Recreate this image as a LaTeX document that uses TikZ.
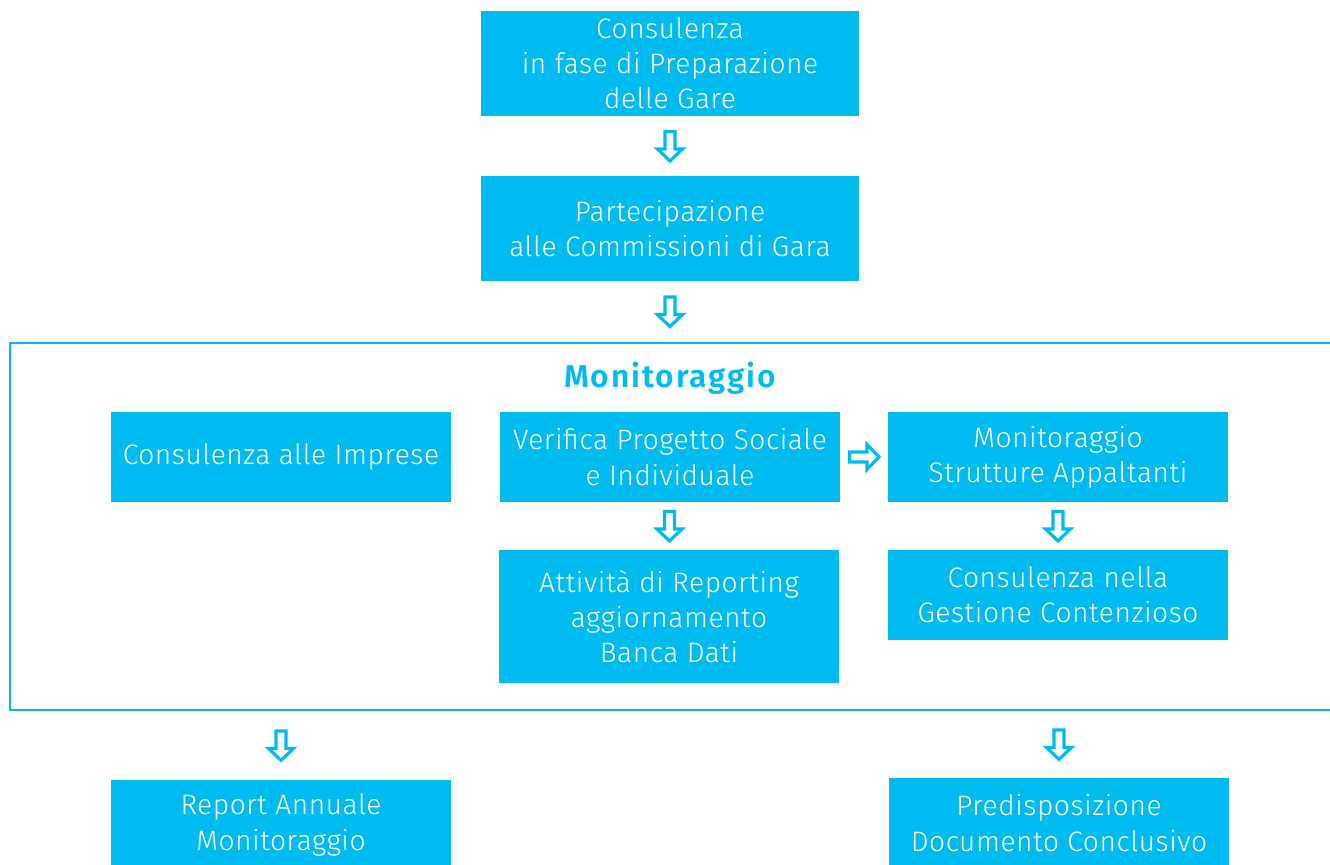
\documentclass[tikz,border=0pt]{standalone}
\usepackage{fontspec}
\setmainfont{Fira Sans}[UprightFont=* Light, BoldFont=* SemiBold, LetterSpace=2]
\usetikzlibrary{calc}
\definecolor{azzurro}{RGB}{0,187,240}
\tikzset{
  box/.style={fill=azzurro,text=white,align=center,inner sep=0pt,
    minimum width=6.8cm,minimum height=1.8cm,
    font=\fontsize{16}{20}\selectfont},
  bigbox/.style={box,minimum width=7.56cm,minimum height=2.1cm},
  frecc/.style={draw=azzurro,line width=1.8pt,fill=white,line join=miter},
  giu/.pic={\path[frecc] (-5,14.5) -- (5,14.5) -- (5,-3) -- (12.5,-3)
      -- (0,-15) -- (-12.5,-3) -- (-5,-3) -- cycle;}
}
\begin{document}
\begin{tikzpicture}[x=0.02cm,y=0.02cm]
  \useasboundingbox (0,0) rectangle (1330,-865);
  % fase preliminare
  \node[bigbox] (prep) at (670,-63.5) {Consulenza\\in fase di Preparazione\\delle Gare};
  \node[bigbox] (comm) at (670,-228.5) {Partecipazione\\alle Commissioni di Gara};
  % riquadro monitoraggio
  \node[draw=azzurro,line width=1.4pt,minimum width=26.8cm,minimum height=7.34cm] (mon) at (680,-526.5) {};
  \node[text=azzurro,font=\fontsize{18}{20}\selectfont\bfseries\addfontfeatures{LetterSpace=6}] (titolo) at (670,-378) {Monitoraggio};
  \node[box] (imp) at (281,-457) {Consulenza alle Imprese};
  \node[box] (ver) at (670,-457) {Verifica Progetto Sociale\\e Individuale};
  \node[box] (strut) at (1058,-457) {Monitoraggio\\Strutture Appaltanti};
  \node[box,minimum height=2.66cm] (repo) at (669,-616.5) {Attività di Reporting\\aggiornamento\\Banca Dati};
  \node[box] (cont) at (1058,-595) {Consulenza nella\\Gestione Contenzioso};
  % uscite
  \node[box] (ann) at (281,-825) {Report Annuale\\Monitoraggio};
  \node[box] (conc) at (1059,-823) {Predisposizione\\Documento Conclusivo};
  % frecce
  \pic at ($(prep.south)!0.5!(comm.north)$) {giu};
  \pic at ($(comm.south)!0.5!(comm.south |- mon.north)$) {giu};
  \pic[rotate=90] at ($(ver.east)!0.5!(strut.west)$) {giu};
  \pic at ($(ver.south)!0.5!(repo.north)$) {giu};
  \pic at ($(strut.south)!0.5!(cont.north)$) {giu};
  \pic at ($(mon.south -| ann.north)!0.5!(ann.north)$) {giu};
  \pic at ($(mon.south -| conc.north)!0.5!(conc.north)$) {giu};
\end{tikzpicture}
\end{document}
